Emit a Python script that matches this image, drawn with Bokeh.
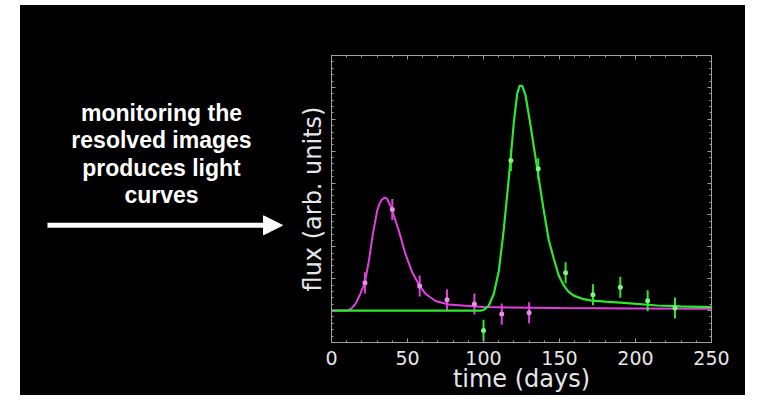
from bokeh.plotting import figure
from bokeh.layouts import row
from bokeh.models import (Range1d, SingleIntervalTicker, LinearAxis, Arrow,
                          NormalHead, CustomJSTickFormatter)
from bokeh.core.properties import value
from bokeh.embed import file_html
from bokeh.resources import INLINE

# ---------------- data ----------------
# model curves
mag_curve_t = [0, 5, 10.3, 13, 15.8, 19, 21.9, 24.6, 27.2, 30.0, 31.5, 33.3, 35.1, 36.5,
               37.3, 38.5, 40.4, 44.3, 48.7, 53.1, 57.5, 61.8, 68.4, 77.2, 92.6, 100,
               150, 200, 250]
mag_curve_v = [1.0, 1.0, 1.0, 1.06, 1.21, 1.53, 1.87, 2.56, 3.40, 4.12, 4.35, 4.49, 4.54,
               4.51, 4.43, 4.32, 4.07, 3.50, 2.77, 2.20, 1.81, 1.53, 1.30, 1.19, 1.14, 1.11,
               1.08, 1.07, 1.06]

green_curve_t = [0, 50, 98, 100.2, 103.5, 106.8, 110.1, 113, 115.6, 117.8, 120, 122.2,
                 123.7, 125.5, 127.6, 130.9, 135.3, 139.7, 143, 146.3, 149.5, 152.8,
                 156, 159.4, 165, 170.4, 180, 192.3, 214.3, 230, 250]
green_curve_v = [1.0, 1.0, 1.0, 1.02, 1.16, 1.53, 2.25, 3.40, 4.64, 5.73, 6.93, 7.81,
                 8.05, 8.05, 7.76, 6.82, 5.47, 4.12, 3.20, 2.62, 2.10, 1.79, 1.59, 1.47,
                 1.37, 1.32, 1.28, 1.24, 1.16, 1.13, 1.11]

# measured points with error bars
mag_t = [22, 40, 58, 76, 94, 112, 130]
mag_v = [1.87, 4.17, 1.77, 1.34, 1.21, 0.89, 0.93]
mag_err = [0.33, 0.33, 0.33, 0.33, 0.33, 0.33, 0.33]

green_t = [100, 118, 136, 154, 172, 190, 208, 226]
green_v = [0.38, 5.71, 5.45, 2.19, 1.50, 1.73, 1.31, 1.08]
green_err = [0.33, 0.33, 0.33, 0.33, 0.33, 0.33, 0.33, 0.33]

x_label = "time (days)"
y_label = "flux (arb. units)"
caption_lines = ["monitoring the", "resolved images", "produces light", "curves"]

H = 390
TOP, BOT = 50, 51  # frame: page y 55..344

# ---------------- caption panel (left) ----------------
# its data space is the page's pixel space (x 20..295, y 55..344)
LW = 275
cap = figure(width=LW, height=H, output_backend="svg", toolbar_location=None,
             x_range=Range1d(20, 20 + LW), y_range=Range1d(5 + H - BOT, 5 + TOP),
             min_border_left=0, min_border_right=0, min_border_top=TOP,
             min_border_bottom=BOT,
             background_fill_color="black", border_fill_color="black",
             x_axis_location=None, y_axis_location=None)
cap.grid.visible = False
cap.outline_line_color = None

cap.text(x=[161] * len(caption_lines), y=[113, 140.5, 168, 195], text=caption_lines,
         text_align="center", text_baseline="alphabetic",
         text_font=value("Liberation Sans"), text_font_style="bold",
         text_font_size="23px", text_color="white")
cap.add_layout(Arrow(x_start=47, y_start=226, x_end=282, y_end=226,
                     line_color="white", line_width=5,
                     end=NormalHead(size=19, fill_color="white", line_color="white",
                                    line_width=1)))

# ---------------- main plot ----------------
W = 450
p = figure(width=W, height=H, output_backend="svg", toolbar_location=None,
           x_range=Range1d(0, 250), y_range=Range1d(0, 9),
           min_border_left=36, min_border_right=34, min_border_top=TOP,
           min_border_bottom=BOT,
           background_fill_color="black", border_fill_color="black",
           x_axis_location=None, y_axis_location=None)
p.grid.visible = False
p.outline_line_color = "#a8a8a8"
p.outline_line_width = 1

tick_col = "#a0a0a0"
txt_col = "#e6e6e6"
blank = CustomJSTickFormatter(code="return ''")


def style_axis(ax, show_labels):
    ax.axis_line_color = tick_col
    ax.major_tick_line_color = tick_col
    ax.minor_tick_line_color = tick_col
    ax.major_tick_in = 4
    ax.major_tick_out = 0
    ax.minor_tick_in = 2
    ax.minor_tick_out = 0
    ax.major_label_text_font = "DejaVu Sans"
    ax.major_label_text_color = txt_col
    if not show_labels:
        ax.formatter = blank
        ax.major_label_standoff = 0


xt = SingleIntervalTicker(interval=50, num_minor_ticks=5)
yt = SingleIntervalTicker(interval=1, num_minor_ticks=5)

xb = LinearAxis(ticker=xt, axis_label=x_label)
style_axis(xb, True)
xb.major_label_text_font_size = "19px"
xb.major_label_standoff = 8
xb.axis_label_text_font = "DejaVu Sans"
xb.axis_label_text_font_size = "24px"
xb.axis_label_text_font_style = "normal"
xb.axis_label_text_color = txt_col
xb.axis_label_standoff = -3
p.add_layout(xb, "below")

xa = LinearAxis(ticker=xt)
style_axis(xa, False)
p.add_layout(xa, "above")

yl = LinearAxis(ticker=yt, axis_label=y_label)
style_axis(yl, False)
yl.axis_label_text_font = "DejaVu Sans"
yl.axis_label_text_font_size = "24px"
yl.axis_label_text_font_style = "normal"
yl.axis_label_text_color = txt_col
yl.axis_label_standoff = 5
p.add_layout(yl, "left")

yr = LinearAxis(ticker=yt)
style_axis(yr, False)
p.add_layout(yr, "right")

mag_col = "#e040e0"
mag_pt = "#ec8cec"
grn_col = "#2ee82e"
grn_pt = "#7cf57c"

# magenta curve + points
p.line(mag_curve_t, mag_curve_v, line_color=mag_col, line_width=2)
p.segment(x0=mag_t, y0=[v - e for v, e in zip(mag_v, mag_err)],
          x1=mag_t, y1=[v + e for v, e in zip(mag_v, mag_err)],
          line_color=mag_col, line_width=2)
p.scatter(mag_t, mag_v, size=5, fill_color=mag_pt, line_color=None)

# green curve + points
p.line(green_curve_t, green_curve_v, line_color=grn_col, line_width=2.2)
p.segment(x0=green_t, y0=[v - e for v, e in zip(green_v, green_err)],
          x1=green_t, y1=[v + e for v, e in zip(green_v, green_err)],
          line_color=grn_col, line_width=2)
p.scatter(green_t, green_v, size=5, fill_color=grn_pt, line_color=None)

layout = row(cap, p, spacing=0, margin=(5, 14, 15, 20),
             styles={"background-color": "black"})
open("out.html", "w").write(file_html(layout, INLINE))
